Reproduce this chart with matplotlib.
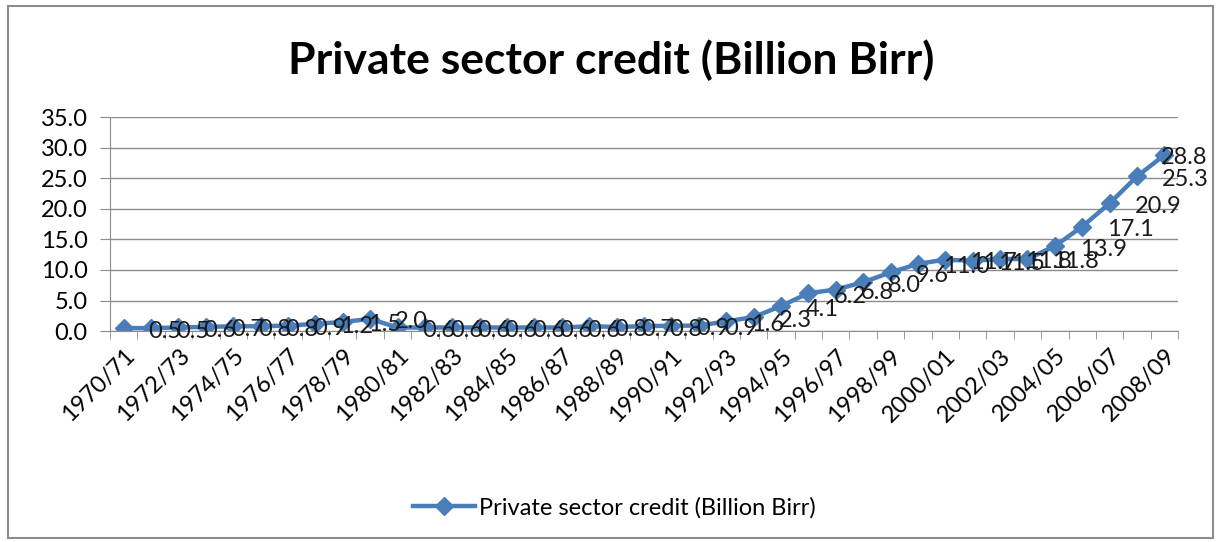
import matplotlib.pyplot as plt
from matplotlib.patches import Rectangle

plt.rcParams['font.family'] = ['Lato', 'DejaVu Sans']

# fiscal years 1970/71 .. 2008/09
years = [f"{y}/{(y + 1) % 100:02d}" for y in range(1970, 2009)]
credit = [0.5, 0.5, 0.6, 0.7, 0.8, 0.8, 0.9, 1.2, 1.5, 2.0,
          0.6, 0.6, 0.6, 0.6, 0.6, 0.6, 0.6, 0.8, 0.7, 0.8,
          0.9, 0.9, 1.6, 2.3, 4.1, 6.2, 6.8, 8.0, 9.6, 11.0,
          11.7, 11.5, 11.8, 11.8, 13.9, 17.1, 20.9, 25.3, 28.8]
series_name = "Private sector credit (Billion Birr)"

blue = '#4A7EBB'
grid_col = '#8C8C8C'
fs = 17

fig = plt.figure(figsize=(12.17, 5.42), dpi=100)
ax = fig.add_axes([0.0904, 0.389, 0.8776, 0.395])

x = list(range(len(years)))
ax.plot(x, credit, color=blue, lw=3.2, marker='D', ms=9, label=series_name)

# data labels sit to the right of each point
for i, v in enumerate(credit):
    dx = 25 if i < len(credit) - 1 else -3
    ax.annotate(f"{v:.1f}", (i, v), xytext=(dx, -3), textcoords='offset pixels',
                ha='left', va='center', fontsize=fs, color='#1a1a1a',
                annotation_clip=False)

ax.set_xlim(-0.5, len(years) - 0.5)
ax.set_ylim(0, 35)
ax.set_yticks(range(0, 40, 5))
ax.set_yticklabels([f"{t:.1f}" for t in range(0, 40, 5)], fontsize=fs)
ax.yaxis.grid(True, color=grid_col, lw=1.0)
ax.set_axisbelow(True)

ax.set_xticks(x[::2])
ax.set_xticklabels(years[::2], rotation=45, ha='right', rotation_mode='anchor',
                   fontsize=fs)
ax.tick_params(axis='x', which='major', length=0, pad=10)
ax.set_xticks([i - 0.5 for i in range(len(years) + 1)], minor=True)
ax.tick_params(axis='x', which='minor', length=6, color=grid_col)
ax.tick_params(axis='y', length=7, color=grid_col, pad=9)

for s in ['top', 'right']:
    ax.spines[s].set_visible(False)
for s in ['left', 'bottom']:
    ax.spines[s].set_color(grid_col)

fig.text(0.502, 0.889, series_name, ha='center', va='center',
         fontsize=32, fontweight='bold')

fig.legend(loc='center', bbox_to_anchor=(0.505, 0.063), frameon=False,
           fontsize=fs, handlelength=2.6, handletextpad=0.2)

fig.patches.append(Rectangle((8 / 1217, 4 / 542), 1205 / 1217, 532 / 542,
                             transform=fig.transFigure, fill=False,
                             edgecolor='#8C8C8C', lw=1.5))

plt.savefig("out.png", dpi=100)
